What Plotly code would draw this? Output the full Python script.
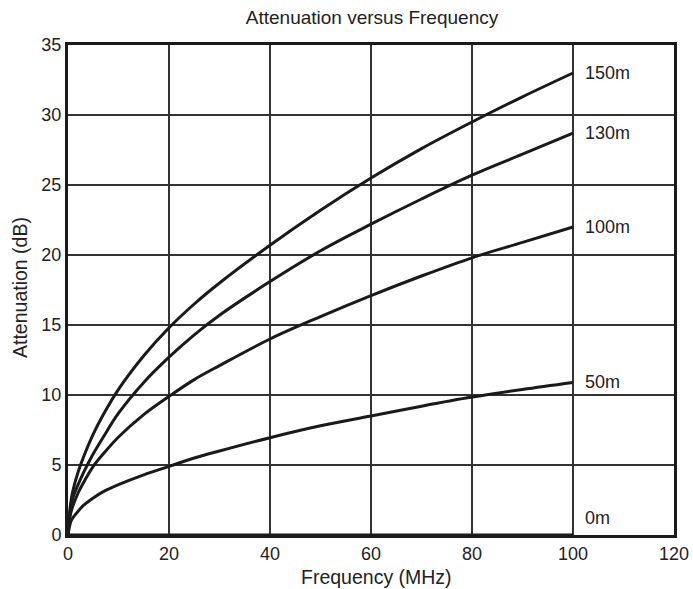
import plotly.graph_objects as go

freq = [0, 0.5, 1, 2, 3, 5, 7, 10, 15, 20, 25, 30, 40, 50, 60, 70, 80, 90, 100]
att_150m = [0, 2.2, 3.2, 4.5, 5.5, 7.2, 8.6, 10.4, 12.8, 14.8, 16.5, 18.0, 20.7, 23.2, 25.5, 27.6, 29.5, 31.3, 33.0]
att_130m = [0, 1.9, 2.7, 3.6, 4.4, 5.8, 7.0, 8.7, 10.9, 12.7, 14.3, 15.7, 18.1, 20.3, 22.2, 24.0, 25.7, 27.2, 28.7]
att_100m = [0, 1.5, 2.1, 3.0, 3.7, 4.9, 5.8, 7.0, 8.6, 9.9, 11.1, 12.1, 14.0, 15.6, 17.1, 18.5, 19.8, 20.9, 22.0]
att_50m = [0, 0.9, 1.25, 1.7, 2.1, 2.65, 3.1, 3.6, 4.3, 4.9, 5.5, 6.0, 6.95, 7.8, 8.5, 9.2, 9.85, 10.4, 10.9]
att_0m = [0] * len(freq)

series = [("150m", att_150m), ("130m", att_130m), ("100m", att_100m),
          ("50m", att_50m), ("0m", att_0m)]
label_y = {"150m": 33.0, "130m": 28.7, "100m": 22.0, "50m": 10.9, "0m": 1.2}

FONT = "Liberation Sans, Arial, sans-serif"
TXT = "#222"
W, H = 693, 589
fig = go.Figure()
for name, vals in series:
    fig.add_trace(go.Scatter(x=freq, y=vals, mode="lines", name=name,
                             line=dict(color="#1a1a1a", width=3, shape="spline", smoothing=1.0),
                             showlegend=False, cliponaxis=False, hoverinfo="skip"))
    fig.add_annotation(x=100, y=label_y[name], text=name, showarrow=False,
                       xanchor="left", xshift=10, yanchor="middle",
                       font=dict(size=18, color=TXT, family=FONT))

# axis titles
fig.add_annotation(xref="paper", yref="paper", x=0.5, y=0, xshift=5, yshift=-42,
                   text="Frequency (MHz)", showarrow=False, xanchor="center", yanchor="middle",
                   font=dict(size=19.5, color=TXT, family=FONT))
fig.add_annotation(xref="paper", yref="paper", x=0, y=0.5, xshift=-48, yshift=2,
                   text="Attenuation (dB)", showarrow=False, textangle=-90,
                   xanchor="center", yanchor="middle",
                   font=dict(size=19.5, color=TXT, family=FONT))

fig.update_layout(
    width=W, height=H,
    margin=dict(l=68, r=19, t=45, b=54, autoexpand=False),
    paper_bgcolor="white", plot_bgcolor="white",
    font=dict(family=FONT, color=TXT, size=18),
    title=dict(text="Attenuation versus Frequency", x=372 / W, xanchor="center",
               y=1 - 17 / H, yanchor="middle", font=dict(size=19, family=FONT, color=TXT)),
)
axis_common = dict(showgrid=True, gridcolor="#333", gridwidth=1.5,
                   showline=True, linecolor="#1a1a1a", linewidth=3, mirror=True,
                   zeroline=False, ticks="", tickfont=dict(size=18, color=TXT),
                   automargin=False, ticklabeloverflow="allow")
fig.update_xaxes(range=[0, 120], tickvals=[0, 20, 40, 60, 80, 100, 120], **axis_common)
fig.update_yaxes(range=[0, 35], tickvals=[0, 5, 10, 15, 20, 25, 30, 35], **axis_common)

fig.write_html("out.html", config={"displayModeBar": False},
               post_script="document.body.style.margin='0';")
